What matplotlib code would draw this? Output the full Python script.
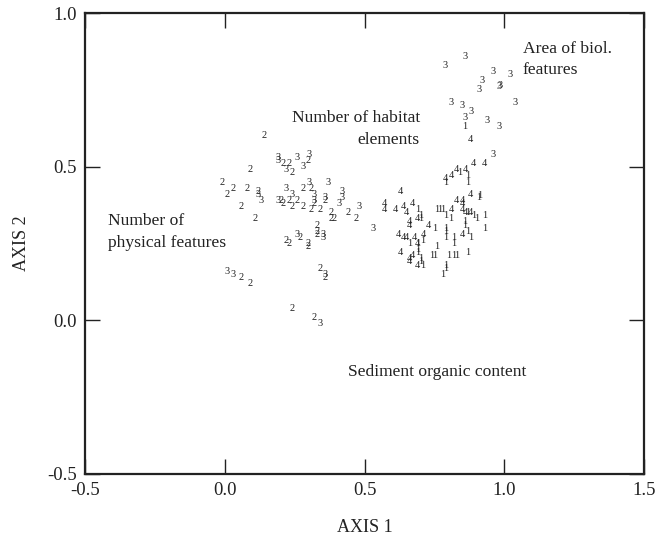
import matplotlib
matplotlib.use("Agg")
import matplotlib.pyplot as plt

plt.rcParams['font.family'] = ['Liberation Serif', 'DejaVu Serif']

# Site scores labelled by group number
g1_x = [0.86, 0.79, 0.84, 0.87, 0.87, 0.69, 0.70, 0.91, 0.912, 0.76, 0.77, 0.78, 0.79, 0.81,
        0.87, 0.89, 0.90, 0.93, 0.86, 0.86, 0.70, 0.75, 0.79, 0.79, 0.71, 0.69, 0.66, 0.79,
        0.82, 0.82, 0.87, 0.88, 0.93, 0.69, 0.69, 0.70, 0.70, 0.71, 0.74, 0.75, 0.76, 0.80,
        0.82, 0.83, 0.87, 0.78, 0.79, 0.79]
g1_y = [0.63, 0.45, 0.48, 0.47, 0.45, 0.36, 0.34, 0.40, 0.405, 0.36, 0.36, 0.36, 0.34, 0.33,
        0.35, 0.34, 0.33, 0.34, 0.32, 0.31, 0.33, 0.30, 0.30, 0.29, 0.26, 0.25, 0.25, 0.27,
        0.27, 0.25, 0.29, 0.27, 0.30, 0.23, 0.22, 0.20, 0.19, 0.18, 0.21, 0.21, 0.24, 0.21,
        0.21, 0.21, 0.22, 0.15, 0.17, 0.18]

g2_x = [0.14, 0.21, 0.23, 0.24, 0.30, 0.09, -0.01, 0.03, 0.01, 0.08, 0.12, 0.23, 0.26, 0.20,
        0.21, 0.24, 0.28, 0.28, 0.31, 0.32, 0.31, 0.34, 0.36, 0.38, 0.39, 0.38, 0.44, 0.47,
        0.06, 0.11, 0.33, 0.33, 0.22, 0.23, 0.27, 0.30, 0.30, 0.33, 0.06, 0.09, 0.34, 0.36,
        0.24, 0.32]
g2_y = [0.60, 0.51, 0.51, 0.48, 0.52, 0.49, 0.45, 0.43, 0.41, 0.43, 0.42, 0.39, 0.39, 0.39,
        0.38, 0.37, 0.37, 0.43, 0.43, 0.38, 0.36, 0.36, 0.39, 0.35, 0.33, 0.33, 0.35, 0.33,
        0.37, 0.33, 0.31, 0.29, 0.26, 0.25, 0.27, 0.25, 0.24, 0.28, 0.14, 0.12, 0.17, 0.14,
        0.04, 0.01]

g3_x = [0.19, 0.19, 0.26, 0.22, 0.28, 0.30, 0.12, 0.13, 0.22, 0.24, 0.19, 0.30, 0.32, 0.32,
        0.37, 0.36, 0.42, 0.42, 0.41, 0.48, 0.53, 0.26, 0.35, 0.35, 0.01, 0.03, 0.36, 0.34,
        0.86, 0.79, 0.96, 1.02, 0.92, 0.91, 0.98, 0.985, 1.04, 0.81, 0.85, 0.88, 0.86, 0.94,
        0.98, 0.96]
g3_y = [0.53, 0.52, 0.53, 0.49, 0.50, 0.54, 0.41, 0.39, 0.43, 0.41, 0.39, 0.45, 0.41, 0.39,
        0.45, 0.40, 0.42, 0.40, 0.38, 0.37, 0.30, 0.28, 0.28, 0.27, 0.16, 0.15, 0.15, -0.01,
        0.86, 0.83, 0.81, 0.80, 0.78, 0.75, 0.76, 0.765, 0.71, 0.71, 0.70, 0.68, 0.66, 0.65,
        0.63, 0.54]

g4_x = [0.88, 0.89, 0.93, 0.79, 0.81, 0.83, 0.86, 0.63, 0.57, 0.57, 0.61, 0.64, 0.65, 0.67,
        0.83, 0.85, 0.85, 0.88, 0.81, 0.85, 0.86, 0.88, 0.66, 0.66, 0.69, 0.73, 0.62, 0.64,
        0.65, 0.68, 0.71, 0.69, 0.85, 0.63, 0.67, 0.66, 0.69, 0.66]
g4_y = [0.59, 0.51, 0.51, 0.46, 0.47, 0.49, 0.49, 0.42, 0.38, 0.36, 0.36, 0.37, 0.35, 0.38,
        0.39, 0.39, 0.38, 0.41, 0.36, 0.36, 0.35, 0.35, 0.31, 0.32, 0.33, 0.31, 0.28, 0.27,
        0.27, 0.27, 0.28, 0.25, 0.28, 0.22, 0.21, 0.19, 0.18, 0.20]

groups = [("1", g1_x, g1_y), ("2", g2_x, g2_y), ("3", g3_x, g3_y), ("4", g4_x, g4_y)]

x_ticks = [-0.5, 0.0, 0.5, 1.0, 1.5]
y_ticks = [-0.5, 0.0, 0.5, 1.0]

fig = plt.figure(figsize=(6.68, 5.42), dpi=100)
ax = fig.add_axes([85/668, 68/542, 559/668, 461/542])

for lab, xs, ys in groups:
    for x, y in zip(xs, ys):
        ax.text(x, y, lab, ha='center', va='center', fontsize=7.5, color='#222222')

ax.text(1.066, 0.848, "Area of biol.\nfeatures", ha='left', va='center', fontsize=12.6,
        linespacing=1.45, color='#222222')
ax.text(0.698, 0.622, "Number of habitat\nelements", ha='right', va='center', fontsize=12.6,
        linespacing=1.45, color='#222222')
ax.text(-0.419, 0.287, "Number of\nphysical features", ha='left', va='center', fontsize=12.6,
        linespacing=1.45, color='#222222')
ax.text(0.440, -0.168, "Sediment organic content", ha='left', va='center', fontsize=12.6,
        color='#222222')

ax.set_xlim(-0.5, 1.5)
ax.set_ylim(-0.5, 1.0)
ax.set_xticks(x_ticks)
ax.set_yticks(y_ticks)
ax.set_xticklabels([f"{v:.1f}" for v in x_ticks])
ax.set_yticklabels([f"{v:.1f}" for v in y_ticks])
ax.tick_params(direction='in', length=11, width=1.0, top=True, right=True,
               labelsize=13.5, pad=6, colors='#222222')
for s in ax.spines.values():
    s.set_linewidth(1.6)
    s.set_color('#222222')

ax.set_xlabel("AXIS 1", fontsize=13, labelpad=14, color='#222222')
ax.set_ylabel("AXIS 2", fontsize=13, labelpad=12, color='#222222')

fig.savefig("out.png", dpi=100)
